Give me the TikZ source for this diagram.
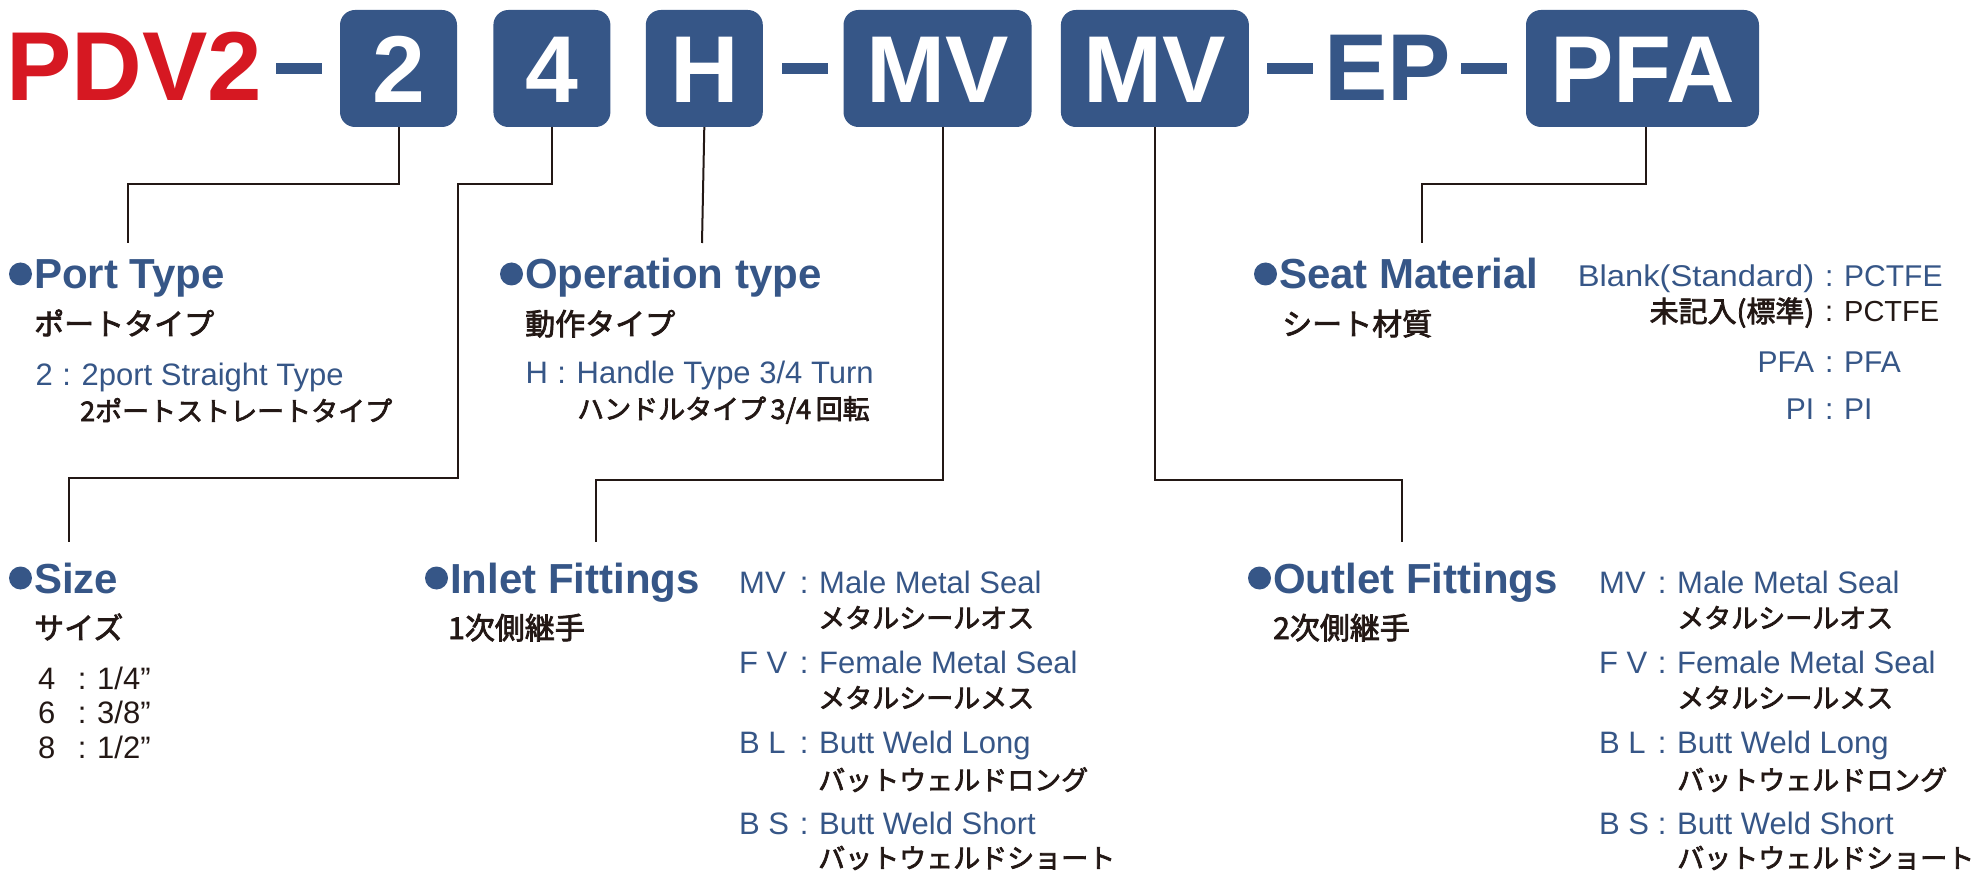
\documentclass[tikz,border=0pt]{standalone}
\usepackage{fontspec}
\setmainfont{Liberation Sans}
\newfontfamily\jp{Noto Sans CJK JP}[FakeBold=2.5]
\usetikzlibrary{positioning}
\definecolor{pdvblue}{RGB}{54,86,135}
\definecolor{pdvred}{RGB}{214,24,34}
\definecolor{ink}{RGB}{35,24,21}
\newcommand\kv[3]{\makebox[#1][l]{#2}\makebox[30pt]{:}#3}
\newcommand\kvr[3]{\makebox[#1][r]{#2}\makebox[30pt]{:}#3}

\begin{document}
\begin{tikzpicture}[x=1pt,y=-1pt,
  codebox/.style={fill=pdvblue,rounded corners=15pt,minimum height=117pt,inner sep=0pt,text=white,text height=68pt,text depth=0pt,font=\fontsize{95}{95}\selectfont\bfseries},
  sepbar/.style={fill=pdvblue,minimum width=46pt,minimum height=11pt,inner sep=0pt},
  txt/.style={anchor=base west,inner sep=0pt},
  head/.style={txt,text=pdvblue,font=\fontsize{42}{42}\selectfont\bfseries},
  sub/.style={txt,text=ink,font=\jp\fontsize{30}{30}\selectfont},
  opt/.style={txt,text=pdvblue,font=\fontsize{31}{31}\selectfont},
  optjp/.style={txt,text=ink,font=\jp\fontsize{27}{27}\selectfont},
  lead/.style={draw=ink,line width=2pt}]
	\useasboundingbox (0,0) rectangle (1973,882);
	% model code
	\node[txt,text=pdvred,font=\fontsize{98}{98}\selectfont\bfseries] (pdv) at (6,101) {PDV2};
	\node[sepbar] (d1) at (299,68.5) {};
	\node[codebox,minimum width=117pt] (b2) at (398.5,68.5) {2};
	\node[codebox,minimum width=117pt,right=36pt of b2] (b4) {4};
	\node[codebox,minimum width=117pt,right=35pt of b4] (bh) {H};
	\node[sepbar,right=19pt of bh] (d2) {};
	\node[codebox,minimum width=188pt] (m1) at (937.5,68.5) {MV};
	\node[codebox,minimum width=188pt,right=29pt of m1] (m2) {MV};
	\node[sepbar] (d3) at (1289.5,68.5) {};
	\node[txt,text=pdvblue,font=\fontsize{95}{95}\selectfont\bfseries] (ep) at (1324,101) {EP};
	\node[sepbar] (d4) at (1484,68.5) {};
	\node[codebox,minimum width=233pt] (pfa) at (1642.5,68.5) {PFA};
	% leader ends
	\coordinate (e1) at (128,243);
	\coordinate (e2) at (69,542);
	\coordinate (e3) at (702,243);
	\coordinate (e4) at (596,542);
	\coordinate (e5) at (1402,542);
	\coordinate (e6) at (1422,243);
	\draw[lead] (b2.south) -- ++(0,57) -| (e1);
	\draw[lead] (b4.south) -- ++(0,57) -| (458,478) -| (e2);
	\draw[lead] (bh.south) -- (e3);
	\draw[lead] ([xshift=5pt]m1.south) -- ++(0,353) -| (e4);
	\draw[lead] (m2.south) -- ++(0,353) -| (e5);
	\draw[lead] ([xshift=3pt]pfa.south) -- ++(0,57) -| (e6);
	% port type
	\node[head] (hpt) at (34,289) {Port Type};
	\node[sub] (spt) at (34,335) {ポートタイプ};
	\node[opt] (opt) at (35.5,386) {\kv{16pt}{2}{2port Straight Type}};
	\node[optjp] (jpt) at (80,421) {2ポートストレートタイプ};
	% operation type
	\node[head] (hop) at (525,289) {Operation type};
	\node[sub] (sop) at (525,335) {動作タイプ};
	\node[opt] (oop) at (525.5,384) {\kv{21pt}{H}{Handle Type 3/4 Turn}};
	\node[optjp] (jop) at (577,419) {ハンドルタイプ\,3/4\,回転};
	% seat material
	\node[head] (hse) at (1279,289) {Seat Material};
	\node[sub] (sse) at (1282,335) {シート材質};
	\node[opt,font=\fontsize{30}{30}\selectfont] (se1) at (1554,287) {\kvr{260pt}{\scalebox{1.09}[1]{Blank(Standard)}}{PCTFE}};
	\node[opt,text=ink,font=\fontsize{29}{29}\selectfont] (se2) at (1554,322) {\kvr{260pt}{\jp 未記入(標準)}{PCTFE}};
	\node[opt,font=\fontsize{30}{30}\selectfont] (se3) at (1554,373) {\kvr{260pt}{PFA}{PFA}};
	\node[opt,font=\fontsize{30}{30}\selectfont] (se4) at (1554,420) {\kvr{260pt}{PI}{PI}};
	% size
	\node[head] (hsz) at (34,593) {Size};
	\node[sub] (ssz) at (34,639) {サイズ};
	\node[opt,text=ink] (sz4) at (38,689) {\kv{29pt}{4}{1/4”}};
	\node[opt,text=ink] (sz6) at (38,723) {\kv{29pt}{6}{3/8”}};
	\node[opt,text=ink] (sz8) at (38,758) {\kv{29pt}{8}{1/2”}};
	% inlet fittings
	\node[head] (hin) at (450,593) {Inlet Fittings};
	\node[sub] (sin) at (448,639) {1次側継手};
	\node[opt] (in1) at (739,593) {\kv{50pt}{MV}{Male Metal Seal}};
	\node[optjp] (jin1) at (818,628) {メタルシールオス};
	\node[opt] (in2) at (739,673) {\kv{50pt}{F V}{Female Metal Seal}};
	\node[optjp] (jin2) at (818,708) {メタルシールメス};
	\node[opt] (in3) at (739,753) {\kv{50pt}{B L}{Butt Weld Long}};
	\node[optjp] (jin3) at (818,790) {バットウェルドロング};
	\node[opt] (in4) at (739,834) {\kv{50pt}{B S}{Butt Weld Short}};
	\node[optjp] (jin4) at (818,868) {バットウェルドショート};
	% outlet fittings
	\node[head] (hout) at (1273,593) {Outlet Fittings};
	\node[sub] (sout) at (1273,639) {2次側継手};
	\node[opt] (out1) at (1599,593) {\kv{48pt}{MV}{Male Metal Seal}};
	\node[optjp] (jout1) at (1677,628) {メタルシールオス};
	\node[opt] (out2) at (1599,673) {\kv{48pt}{F V}{Female Metal Seal}};
	\node[optjp] (jout2) at (1677,708) {メタルシールメス};
	\node[opt] (out3) at (1599,753) {\kv{48pt}{B L}{Butt Weld Long}};
	\node[optjp] (jout3) at (1677,790) {バットウェルドロング};
	\node[opt] (out4) at (1599,834) {\kv{48pt}{B S}{Butt Weld Short}};
	\node[optjp] (jout4) at (1677,868) {バットウェルドショート};
	% bullets
	\foreach \h in {hpt,hop,hse,hsz,hin,hout}
		\fill[pdvblue] (\h.base west) ++(-13.5,-15) circle[radius=11.5pt];
\end{tikzpicture}
\end{document}
